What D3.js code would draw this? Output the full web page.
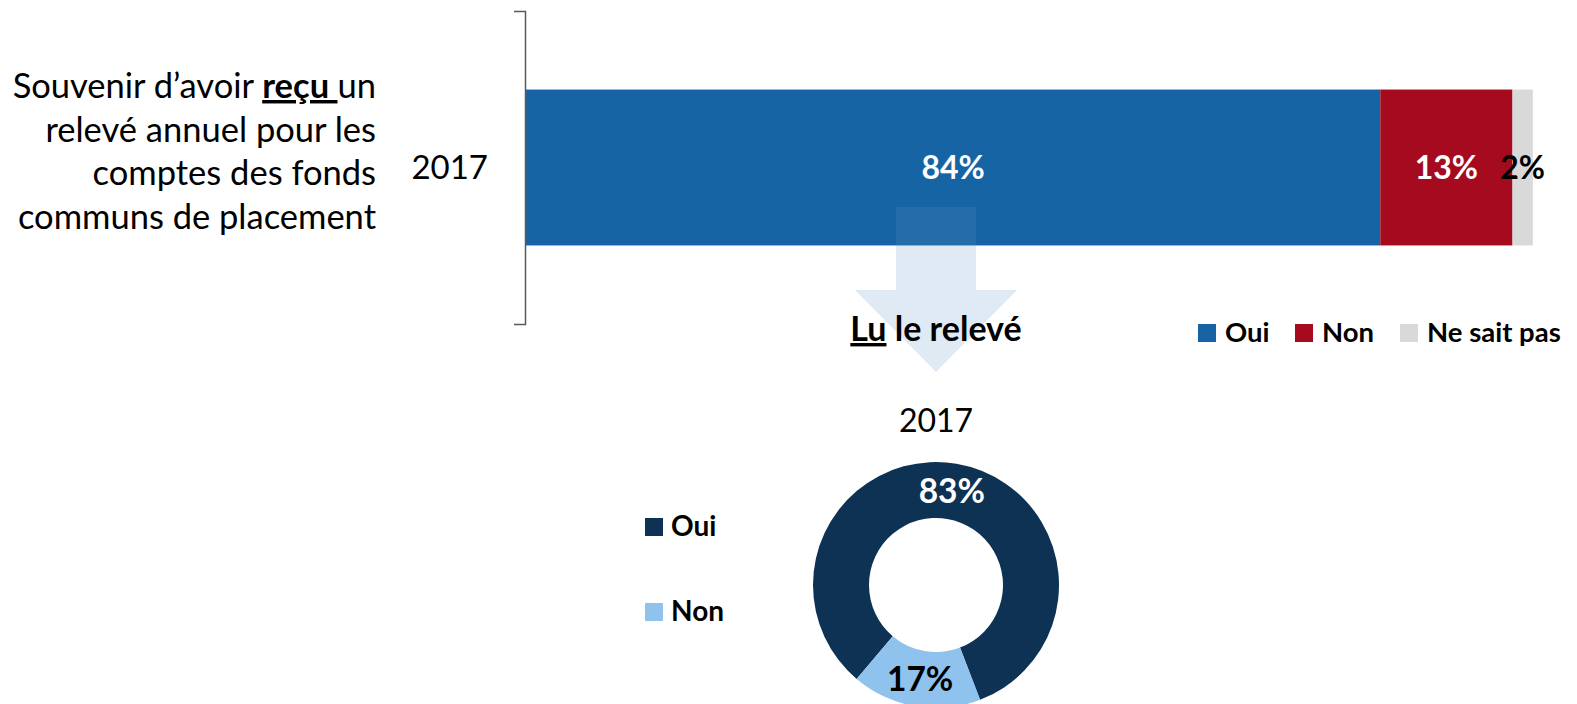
<!DOCTYPE html>
<html>
<head>
<meta charset="utf-8">
<script src="https://cdn.jsdelivr.net/npm/d3@7/dist/d3.min.js"></script>
<style>
  body { margin: 0; background: #fff; }
  svg { font-family: Lato, "Open Sans", sans-serif; }
</style>
</head>
<body>
<svg id="viz" width="1577" height="704"></svg>
<script>
// bar data
var barYears = ["2017"];
var barSeries = ["Oui", "Non", "Ne sait pas"];
var barValues = [84, 13, 2];
var barColors = ["#1764a5", "#a50a1e", "#d9d9d9"];
var barLabelColors = ["#fff", "#fff", "#000"];

// donut data
var donutYear = "2017";
var donutSeries = ["Oui", "Non"];
var donutValues = [83, 17];
var donutColors = ["#0e3253", "#8fc3ee"];
var donutLabelColors = ["#fff", "#000"];

var svg = d3.select('svg#viz');

// question text on the left, "reçu" bold + underlined
var qLines = [
    [["Souvenir d’avoir ", false], ["reçu ", true], ["un", false]],
    [["relevé annuel pour les", false]],
    [["comptes des fonds", false]],
    [["communs de placement", false]]
];
var qText = svg.append('text')
    .attr('text-anchor', 'end')
    .attr('font-size', 34.5)
    .style('white-space', 'pre')
    .attr('fill', '#000');
qLines.forEach(function(line, i) {
    var t = qText.append('tspan').attr('x', 376).attr('y', 98 + i * 43.7);
    line.forEach(function(part, j) {
        var s = j === 0 ? t : qText.append('tspan');
        s.text(part[0]);
        if (part[1]) {
            s.attr('font-weight', 'bold').style('text-decoration', 'underline');
        }
    });
});

// scales
var x = d3.scaleLinear().domain([0, 100]).range([526, 1543]);
var y = d3.scaleBand().domain(barYears).range([11, 324]).padding(0.335);

// stack
var stacked = [];
var acc = 0;
barValues.forEach(function(v, i) {
    stacked.push({ key: barSeries[i], x0: acc, x1: acc + v, v: v, i: i });
    acc += v;
});

// arrow path (behind the bar)
var cx = 936;
var arrowPts = [
    [cx - 40, 207], [cx + 40, 207], [cx + 40, 290], [cx + 81, 290],
    [cx, 372], [cx - 81, 290], [cx - 40, 290]
];
var arrowPath = d3.line()(arrowPts) + 'Z';
svg.append('path').attr('d', arrowPath).attr('fill', '#dde9f5');

svg.append('g').selectAll('rect')
    .data(stacked)
    .enter().append('rect')
    .attr('x', function(d) { return x(d.x0); })
    .attr('width', function(d) { return x(d.x1) - x(d.x0); })
    .attr('y', y("2017"))
    .attr('height', y.bandwidth())
    .attr('fill', function(d) { return barColors[d.i]; });

// faint arrow over the bar
svg.append('path').attr('d', arrowPath).attr('fill', '#fff').attr('opacity', 0.06);

svg.append('g').selectAll('text')
    .data(stacked)
    .enter().append('text')
    .attr('x', function(d) { return (x(d.x0) + x(d.x1)) / 2; })
    .attr('y', y("2017") + y.bandwidth() / 2 + 11)
    .attr('text-anchor', 'middle')
    .attr('font-size', 32)
    .attr('font-weight', 'bold')
    .attr('fill', function(d) { return barLabelColors[d.i]; })
    .text(function(d) { return d.v + '%'; });

// bracket axis
var axis = d3.axisLeft(y).tickSizeInner(0).tickSizeOuter(11).tickPadding(37);
var ax = svg.append('g').attr('transform', 'translate(525,0)').call(axis);
ax.select('.domain').attr('stroke', '#595959').attr('stroke-width', 1.5);
ax.selectAll('text').attr('font-size', 33).attr('font-family', 'Lato, sans-serif').attr('fill', '#000')
    .attr('dy', '0.35em');

// top legend
var legTop = [1198, 1295, 1400];
barSeries.forEach(function(s, i) {
    svg.append('rect').attr('x', legTop[i]).attr('y', 324).attr('width', 18).attr('height', 18)
        .attr('fill', barColors[i]);
    svg.append('text').attr('x', legTop[i] + 27).attr('y', 342)
        .attr('font-size', 27.5).attr('font-weight', 'bold').text(s);
});

// "Lu le relevé"
var lu = svg.append('text').attr('x', cx).attr('y', 341).attr('text-anchor', 'middle')
    .attr('font-size', 34).attr('font-weight', 'bold');
lu.append('tspan').style('text-decoration', 'underline').text('Lu');
lu.append('tspan').text(' le relevé');

// donut
svg.append('text').attr('x', cx).attr('y', 432).attr('text-anchor', 'middle')
    .attr('font-size', 32).text(donutYear);

var start = 220.2 * Math.PI / 180;
var pie = d3.pie().sort(null).startAngle(start).endAngle(start + 2 * Math.PI);
var arc = d3.arc().innerRadius(67).outerRadius(123);
var dg = svg.append('g').attr('transform', 'translate(' + cx + ',585)');
var arcs = pie(donutValues);
dg.selectAll('path')
    .data(arcs)
    .enter().append('path')
    .attr('d', arc)
    .attr('fill', function(d, i) { return donutColors[i]; });
dg.selectAll('text')
    .data(arcs)
    .enter().append('text')
    .attr('transform', function(d) { return 'translate(' + arc.centroid(d) + ')'; })
    .attr('dy', 12)
    .attr('text-anchor', 'middle')
    .attr('font-size', 33.5)
    .attr('font-weight', 'bold')
    .attr('fill', function(d, i) { return donutLabelColors[i]; })
    .text(function(d) { return d.data + '%'; });

// donut legend
donutSeries.forEach(function(s, i) {
    svg.append('rect').attr('x', 645).attr('y', 518 + i * 85).attr('width', 18).attr('height', 18)
        .attr('fill', donutColors[i]);
    svg.append('text').attr('x', 671).attr('y', 536 + i * 85)
        .attr('font-size', 28).attr('font-weight', 'bold').text(s);
});
</script>
</body>
</html>
